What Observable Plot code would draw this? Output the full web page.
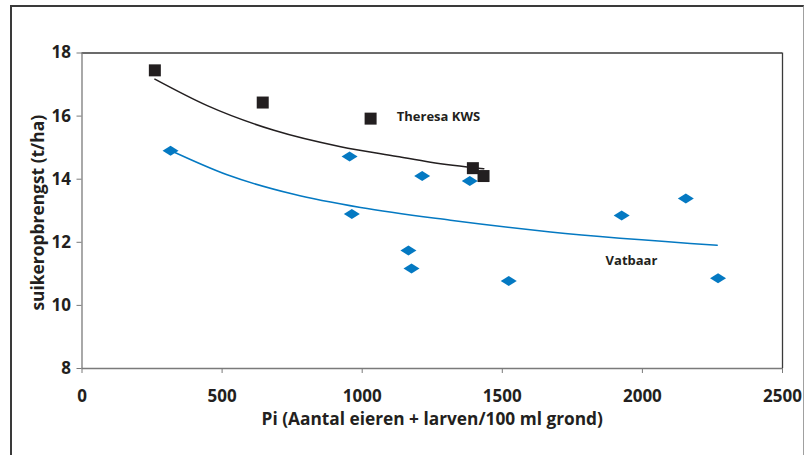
<!DOCTYPE html>
<html><head><meta charset="utf-8">
<script src="https://cdn.jsdelivr.net/npm/d3@7"></script>
<script src="https://cdn.jsdelivr.net/npm/@observablehq/plot@0.6"></script>
<style>
body{margin:0;background:#fff;}
#wrap{position:relative;width:807px;height:455px;overflow:hidden;}
#border{position:absolute;left:10px;top:5px;width:794px;height:480px;border-left:2px solid #3a3a3a;border-top:2px solid #3a3a3a;border-right:1px solid #a0a0a0;pointer-events:none;box-sizing:border-box;}
</style></head><body><div id="wrap"><div id="border"></div></div>
<script>
// Theresa KWS (squares)
const theresaPi = [260, 645, 1030, 1395, 1433];
const theresaYield = [17.45, 16.43, 15.92, 14.35, 14.10];
// Vatbaar (diamonds)
const vatbaarPi = [316, 955, 963, 1214, 1384, 1165, 1176, 1523, 1926, 2155, 2270];
const vatbaarYield = [14.90, 14.72, 12.90, 14.10, 13.94, 11.74, 11.17, 10.77, 12.85, 13.39, 10.86];
// Trend curves
const theresaTrendPi = [260, 447, 685, 923, 1125, 1244, 1434];
const theresaTrendYield = [17.17, 16.33, 15.55, 15.03, 14.72, 14.54, 14.33];
const vatbaarTrendPi = [316, 518, 756, 994, 1315, 1672, 2267];
const vatbaarTrendYield = [14.91, 14.14, 13.52, 13.10, 12.70, 12.33, 11.91];
// Axes
const xTicks = [0, 500, 1000, 1500, 2000, 2500];
const yTicks = [8, 10, 12, 14, 16, 18];
const xLabel = "Pi (Aantal eieren + larven/100 ml grond)";
const yLabel = "suikeropbrengst (t/ha)";
const seriesLabels = ["Theresa KWS", "Vatbaar"];
const seriesLabelPi = [1272, 1961];
const seriesLabelYield = [15.99, 11.42];

const toRows = (xs, ys) => xs.map((x, i) => ({x, y: ys[i]}));
const theresa = toRows(theresaPi, theresaYield);
const vatbaar = toRows(vatbaarPi, vatbaarYield);
const theresaTrend = toRows(theresaTrendPi, theresaTrendYield);
const vatbaarTrend = toRows(vatbaarTrendPi, vatbaarTrendYield);
const labels = seriesLabels.map((t, i) => ({t, x: seriesLabelPi[i], y: seriesLabelYield[i]}));

const ink = "#231f20";
const blue = "#0479c2";
const axisGray = "#7a7a7a";
const font = "'Open Sans', sans-serif";

const symDiamond = {draw(ctx, size) {
  const r = Math.sqrt(size / Math.PI), w = r * 1.6;
  ctx.moveTo(0, -r); ctx.lineTo(w, 0); ctx.lineTo(0, r); ctx.lineTo(-w, 0); ctx.closePath();
}};
const symSquare = {draw(ctx, size) {
  const r = Math.sqrt(size / Math.PI);
  ctx.rect(-r, -r, 2 * r, 2 * r);
}};

const chart = Plot.plot({
  width: 807, height: 455,
  marginLeft: 81.5, marginRight: 25, marginTop: 52.5, marginBottom: 87,
  style: {fontFamily: font, fontWeight: 700, fontSize: "17px", color: ink, background: "transparent", overflow: "visible"},
  x: {domain: [0, 2500]},
  y: {domain: [8, 18]},
  marks: [
    Plot.ruleY([18], {stroke: "#3a3a3a", strokeWidth: 1.3}),
    Plot.ruleX([2500], {stroke: "#3a3a3a", strokeWidth: 1.3}),
    Plot.ruleX([0], {stroke: axisGray, strokeWidth: 1.3}),
    Plot.ruleY([8], {stroke: axisGray, strokeWidth: 1.3}),
    Plot.axisX({ticks: xTicks, tickSize: 5, tickPadding: 16, label: null, stroke: axisGray, fill: ink, fontSize: 17, fontWeight: 700, tickFormat: d => String(d)}),
    Plot.axisY({ticks: yTicks, tickSize: 5, tickPadding: 6, label: null, stroke: axisGray, fill: ink, fontSize: 17, fontWeight: 700}),
    Plot.text([yLabel], {frameAnchor: "left", textAnchor: "middle", dx: -44, dy: 2, rotate: -90, fontSize: 17.4, fontWeight: 700, fill: ink}),
    Plot.text([xLabel], {frameAnchor: "bottom", textAnchor: "middle", dy: 56, fontSize: 17.3, fontWeight: 700, fill: ink}),
    Plot.line(theresaTrend, {x: "x", y: "y", stroke: ink, strokeWidth: 1.5, curve: "monotone-x"}),
    Plot.line(vatbaarTrend, {x: "x", y: "y", stroke: blue, strokeWidth: 1.5, curve: "monotone-x"}),
    Plot.dot(vatbaar, {x: "x", y: "y", symbol: symDiamond, r: 5, fill: blue, stroke: "none"}),
    Plot.dot(theresa, {x: "x", y: "y", symbol: symSquare, r: 6, fill: ink, stroke: "none"}),
    Plot.text(labels, {x: "x", y: "y", text: "t", fontSize: 13, fontWeight: 700, fill: ink})
  ]
});
chart.style.position = "absolute";
chart.style.left = "0px";
chart.style.top = "0px";
document.getElementById("wrap").insertBefore(chart, document.getElementById("border"));
</script>
</body></html>
